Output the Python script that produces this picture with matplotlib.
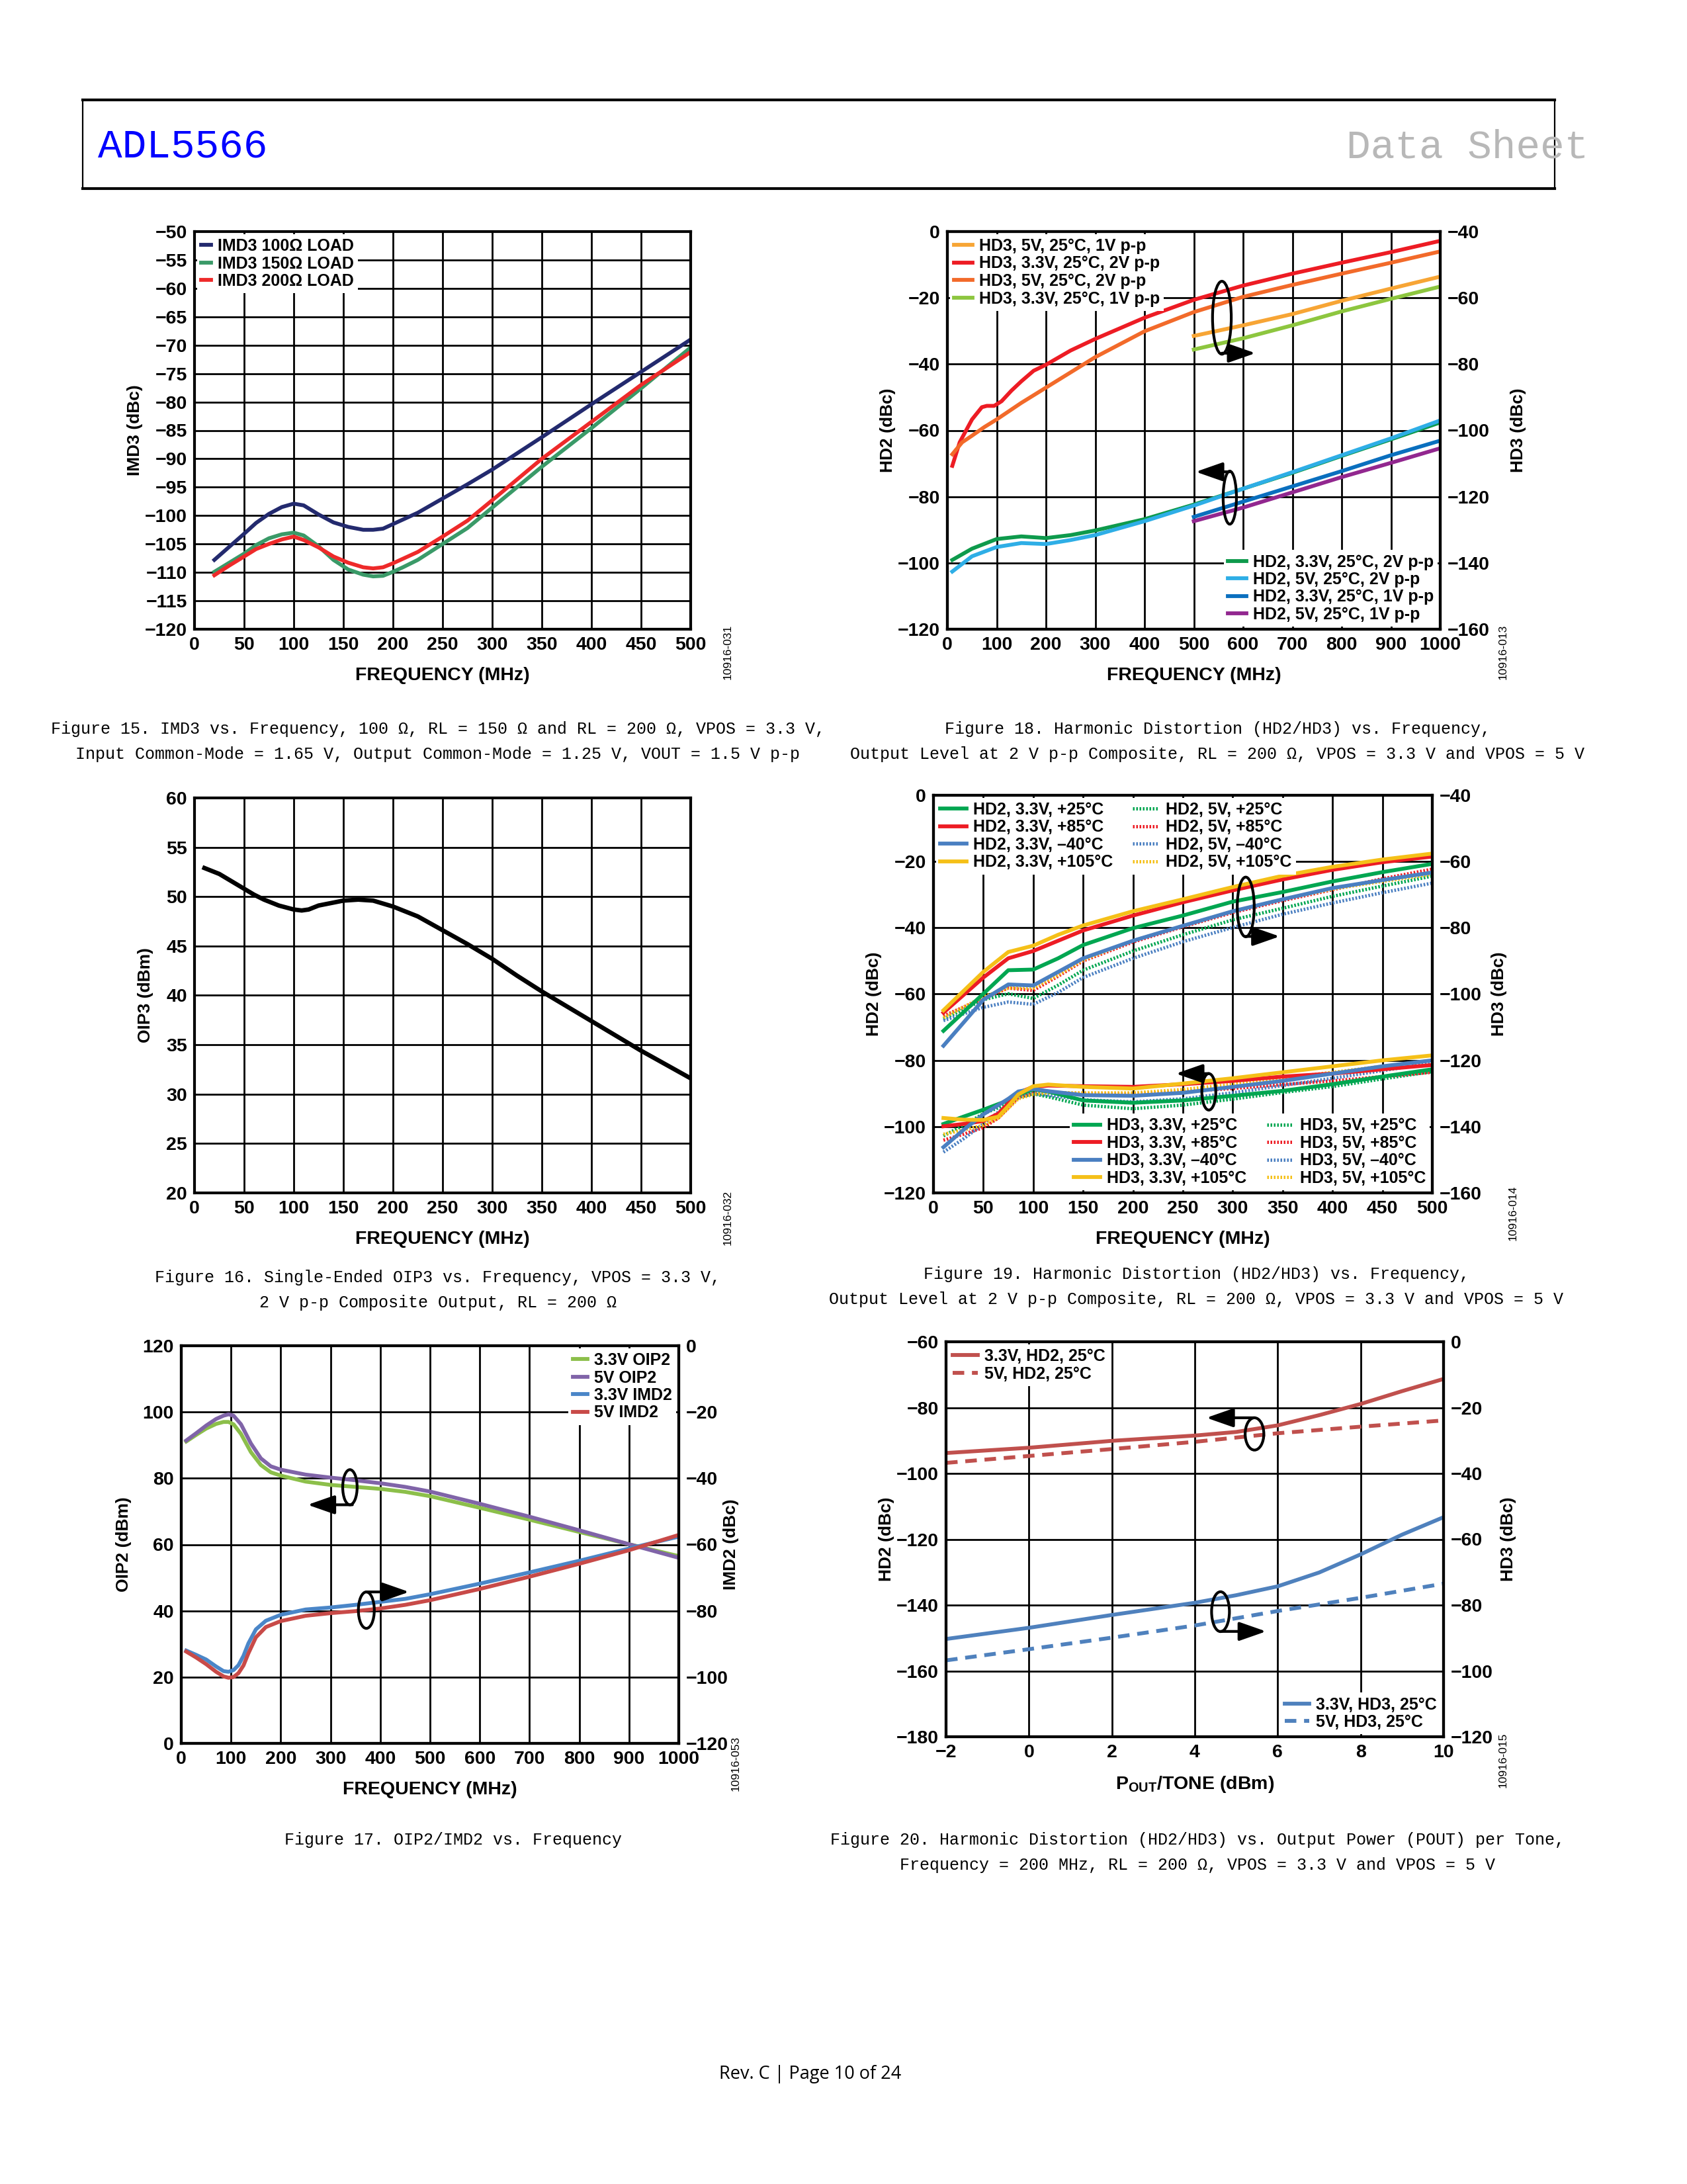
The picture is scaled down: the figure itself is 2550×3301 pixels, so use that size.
import matplotlib
matplotlib.use("Agg")
import matplotlib.pyplot as plt
from matplotlib import font_manager
from matplotlib.patches import Ellipse

# ----------------------------------------------------------- data: figure 15
f15_freq = [20, 35, 50, 62, 75, 88, 100, 110, 125, 140, 155, 170, 180, 190, 200, 210, 225, 250, 275, 300, 350, 400, 450, 500]
imd3_100 = [-107.8, -105.5, -103.2, -101.3, -99.7, -98.5, -97.9, -98.2, -99.8, -101.2, -102.0, -102.5, -102.5, -102.3, -101.5, -100.7, -99.5, -97.0, -94.5, -91.9, -86.2, -80.4, -74.7, -69.0]
imd3_150 = [-109.9, -108.3, -106.7, -105.2, -104.0, -103.3, -103.0, -103.5, -105.4, -107.8, -109.5, -110.4, -110.7, -110.6, -109.9, -109.1, -107.8, -105.0, -102.2, -98.6, -91.4, -84.6, -77.6, -70.4]
imd3_200 = [-110.5, -108.8, -107.2, -105.9, -105.0, -104.2, -103.7, -104.3, -105.6, -107.2, -108.3, -109.1, -109.3, -109.1, -108.4, -107.6, -106.4, -103.7, -100.9, -97.3, -90.0, -83.5, -77.0, -71.2]
f15_labels = ["IMD3 100Ω LOAD", "IMD3 150Ω LOAD", "IMD3 200Ω LOAD"]

# ----------------------------------------------------------- data: figure 16
f16_freq = [10, 25, 40, 50, 60, 70, 85, 100, 108, 115, 125, 140, 150, 165, 180, 190, 200, 225, 250, 275, 300, 325, 350, 375, 400, 425, 450, 475, 500]
oip3 = [52.9, 52.3, 51.4, 50.8, 50.2, 49.7, 49.1, 48.7, 48.6, 48.7, 49.1, 49.4, 49.6, 49.7, 49.6, 49.3, 49.0, 48.0, 46.6, 45.2, 43.7, 42.0, 40.4, 38.9, 37.4, 35.9, 34.4, 33.0, 31.6]

# ----------------------------------------------------------- data: figure 17
f17_oip_freq = [10, 30, 50, 70, 85, 95, 105, 120, 140, 160, 180, 200, 250, 300, 350, 400, 450, 500, 600, 700, 800, 900, 1000]
oip2_33 = [91.1, 93.1, 95.0, 96.4, 97.0, 97.0, 96.3, 93.4, 87.9, 84.0, 81.8, 80.8, 79.0, 78.0, 77.4, 76.8, 75.9, 74.6, 71.1, 67.5, 63.8, 60.1, 56.5]
oip2_5 = [91.4, 93.6, 95.9, 97.9, 98.9, 99.3, 98.9, 96.3, 90.5, 86.0, 83.6, 82.6, 81.1, 80.2, 79.4, 78.5, 77.4, 76.0, 72.3, 68.4, 64.3, 60.1, 56.0]
f17_imd_freq = [10, 30, 50, 70, 85, 95, 105, 115, 125, 135, 150, 170, 200, 250, 300, 350, 400, 450, 500, 600, 700, 800, 900, 1000]
imd2_33 = [-92.0, -93.3, -94.7, -96.8, -98.2, -98.4, -97.9, -96.4, -93.6, -89.8, -85.6, -83.0, -81.2, -79.6, -79.0, -78.2, -77.3, -76.4, -75.0, -71.8, -68.4, -64.9, -61.2, -57.6]
imd2_5 = [-92.3, -94.1, -96.1, -98.4, -99.8, -100.2, -100.0, -98.8, -96.5, -92.8, -88.0, -84.9, -83.1, -81.5, -80.7, -80.1, -79.3, -78.2, -76.8, -73.4, -69.7, -65.8, -61.7, -57.1]
f17_labels = ["3.3V OIP2", "5V OIP2", "3.3V IMD2", "5V IMD2"]

# ----------------------------------------------------------- data: figure 18
f18_freq = [10, 25, 50, 70, 80, 95, 110, 130, 150, 175, 200, 250, 300, 400, 500, 600, 700, 800, 900, 1000]
hd3_33_2v = [-110.7, -103.6, -96.7, -93.0, -92.6, -92.6, -91.2, -88.0, -85.2, -82.0, -80.2, -75.9, -72.4, -66.0, -60.6, -56.3, -52.7, -49.4, -46.2, -42.8]
f18_freq_b = [10, 30, 50, 75, 100, 150, 200, 250, 300, 400, 500, 600, 700, 800, 900, 1000]
hd3_5_2v = [-107.2, -103.6, -101.6, -99.0, -96.7, -91.7, -87.1, -82.5, -77.9, -70.1, -64.3, -59.7, -56.1, -52.7, -49.4, -46.0]
f18_freq_hi = [500, 600, 700, 800, 900, 1000]
hd3_5_1v = [-71.5, -68.3, -64.9, -60.9, -57.2, -53.6]
hd3_33_1v = [-75.6, -72.2, -68.3, -64.1, -60.3, -56.6]
f18_freq_c = [10, 50, 100, 150, 200, 250, 300, 400, 500, 600, 700, 800, 900, 1000]
hd2_33_2v = [-99.1, -95.7, -92.8, -92.0, -92.5, -91.6, -90.2, -86.8, -82.4, -77.6, -72.8, -67.7, -62.7, -57.6]
hd2_5_2v = [-102.6, -98.0, -95.2, -94.0, -94.3, -93.1, -91.6, -87.4, -82.7, -77.6, -72.6, -67.5, -62.4, -57.0]
hd2_33_1v = [-86.1, -81.5, -76.9, -72.3, -67.5, -63.1]
hd2_5_1v = [-87.4, -83.3, -78.7, -74.1, -69.8, -65.4]

# ----------------------------------------------------------- data: figure 19
f19_top_freq = [10, 50, 75, 100, 125, 150, 200, 250, 300, 350, 400, 450, 500]
top_33_p25 = [-111.1, -99.9, -92.8, -92.6, -89.2, -85.2, -80.1, -76.3, -72.1, -69.2, -66.0, -63.2, -60.7]
top_33_p85 = [-105.6, -95.0, -89.2, -87.0, -83.9, -80.8, -76.3, -72.3, -68.7, -65.4, -62.5, -60.2, -58.5]
top_33_m40 = [-115.6, -101.7, -97.1, -97.4, -93.3, -89.2, -83.9, -79.4, -75.0, -71.4, -68.0, -65.6, -63.3]
top_33_p105 = [-104.9, -93.3, -87.3, -85.4, -82.1, -79.3, -75.0, -71.4, -67.7, -64.3, -61.6, -59.4, -57.6]
top_5_p25 = [-107.5, -101.7, -99.9, -101.3, -97.3, -92.8, -87.0, -82.1, -77.6, -74.1, -70.5, -67.4, -64.4]
top_5_p85 = [-106.6, -101.3, -98.2, -98.9, -94.6, -90.0, -84.3, -79.7, -75.4, -71.8, -68.5, -65.2, -62.3]
top_5_m40 = [-108.0, -104.0, -102.4, -103.1, -99.5, -95.0, -89.2, -84.2, -79.9, -75.9, -72.5, -69.4, -66.5]
top_5_p105 = [-107.1, -100.8, -98.2, -98.2, -94.2, -89.7, -83.9, -79.4, -75.0, -71.4, -68.3, -66.0, -63.8]
f19_bot_freq = [10, 30, 50, 65, 75, 85, 100, 115, 150, 200, 250, 300, 350, 400, 450, 500]
bot_33_p25 = [-99.2, -97.0, -94.9, -93.2, -92.1, -90.3, -88.8, -89.4, -92.1, -92.8, -92.1, -90.7, -89.2, -87.2, -84.9, -82.7]
bot_33_p85 = [-99.9, -99.2, -98.3, -96.1, -93.0, -89.8, -88.0, -87.6, -87.8, -88.0, -87.2, -86.2, -84.9, -84.0, -82.7, -81.4]
bot_33_m40 = [-106.2, -101.0, -96.3, -93.5, -91.6, -89.4, -88.6, -89.3, -90.5, -90.7, -89.8, -88.0, -86.2, -84.0, -81.8, -80.0]
bot_33_p105 = [-97.4, -97.9, -98.0, -97.0, -93.8, -90.3, -87.8, -87.3, -88.0, -88.5, -87.0, -85.4, -83.6, -81.8, -80.0, -78.5]
bot_5_p25 = [-102.8, -99.6, -96.1, -94.3, -93.0, -91.2, -90.1, -91.0, -93.5, -94.6, -93.5, -91.7, -89.7, -87.9, -85.6, -83.4]
bot_5_p85 = [-104.1, -102.3, -100.3, -97.4, -94.3, -91.2, -89.8, -89.6, -90.1, -90.1, -89.4, -88.5, -87.3, -86.2, -84.9, -83.6]
bot_5_m40 = [-107.7, -103.7, -99.2, -95.6, -93.4, -91.2, -90.1, -90.5, -91.9, -92.5, -91.6, -89.8, -87.6, -85.4, -83.1, -80.8]
bot_5_p105 = [-102.3, -101.0, -99.6, -97.4, -94.5, -91.6, -90.3, -89.8, -89.8, -89.8, -88.8, -87.2, -85.4, -83.6, -81.8, -80.0]
temps = ["+25°C", "+85°C", "–40°C", "+105°C"]

# ----------------------------------------------------------- data: figure 20
pout = [-2, 0, 2, 4, 5, 6, 7, 8, 9, 10]
pout_d = [-2, 0, 2, 4, 6, 8, 10]
hd2_33_p = [-93.8, -92.2, -90.1, -88.5, -87.4, -85.4, -82.3, -78.9, -75.0, -71.3]
hd2_5_p = [-96.8, -94.7, -92.6, -90.4, -87.8, -85.8, -83.9]
hd3_33_p = [-90.3, -86.9, -83.0, -79.3, -77.0, -74.3, -70.1, -64.6, -58.6, -53.3]
hd3_5_p = [-96.8, -93.4, -89.9, -86.2, -81.8, -77.8, -73.5]

# ----------------------------------------------------------- fonts / helpers
names = {f.name for f in font_manager.fontManager.ttflist}
NARROW = "Liberation Sans Narrow" if "Liberation Sans Narrow" in names else "Liberation Sans"
plt.rcParams["font.family"] = [NARROW, "DejaVu Sans"]
plt.rcParams["font.weight"] = "bold"
plt.rcParams["font.size"] = 20
plt.rcParams["axes.labelweight"] = "bold"

W, H = 2550, 3301
fig = plt.figure(figsize=(W / 100, H / 100), dpi=100)


def px_axes(l, r, t, b):
    return fig.add_axes([l / W, 1 - b / H, (r - l) / W, (b - t) / H])


def style(ax, xlim, xt, ylim, yt, xlabel, ylabel, ypad=2):
    ax.set_xlim(*xlim)
    ax.set_ylim(*ylim)
    ax.set_xticks(xt)
    ax.set_yticks(yt)
    ax.set_axisbelow(True)
    ax.grid(True, color="black", linewidth=2.0)
    ax.tick_params(length=0, pad=8, labelsize=20.5)
    for sp in ax.spines.values():
        sp.set_linewidth(3.0)
    ax.set_xlabel(xlabel, fontsize=20.5, labelpad=14)
    ax.set_ylabel(ylabel, family="Liberation Sans", fontsize=19, labelpad=ypad)


def right_axis(ax, ylim, yt, ylabel, pad=14):
    ax2 = ax.twinx()
    ax2.set_ylim(*ylim)
    ax2.set_yticks(yt)
    ax2.tick_params(length=0, pad=8, labelsize=20.5)
    for sp in ax2.spines.values():
        sp.set_linewidth(3.0)
    ax2.set_ylabel(ylabel, family="Liberation Sans", fontsize=19, labelpad=pad)
    return ax2


def loop(axd, trans, center, w, h, start, end):
    axd.add_patch(Ellipse(center, w, h, transform=trans, fill=False, lw=3.0, ec="black", zorder=8))
    axd.annotate("", xy=end, xytext=start, xycoords=trans, textcoords=trans,
                 arrowprops=dict(arrowstyle="-|>,head_length=1.0,head_width=0.35", lw=3.0,
                                 color="black", mutation_scale=25, shrinkA=0, shrinkB=0), zorder=8)


def legend(ax, handles, labels, size=18, **kw):
    leg = ax.legend(handles, labels, fontsize=size, frameon=True, fancybox=False, framealpha=1,
                    facecolor="white", edgecolor="none", borderpad=0.25, labelspacing=0.1,
                    handletextpad=0.4, borderaxespad=0.15, **kw)
    leg.set_zorder(10)
    return leg


def fig_id(x, y, s):
    fig.text(x / W, 1 - y / H, s, rotation=90, ha="center", va="center", fontsize=12.5,
             family="Liberation Sans", weight="normal")


def caption(x, y, lines):
    for i, s in enumerate(lines):
        fig.text(x / W, 1 - (y + i * 38) / H, s, ha="center", va="center", fontsize=18,
                 family="Liberation Mono", weight="normal")


LW = 4.2

# ----------------------------------------------------------- header / footer
fig.add_artist(plt.Line2D([125 / W, 2350 / W], [1 - 151 / H, 1 - 151 / H], color="black", lw=3))
fig.add_artist(plt.Line2D([125 / W, 2350 / W], [1 - 285 / H, 1 - 285 / H], color="black", lw=3))
fig.add_artist(plt.Line2D([125 / W, 125 / W], [1 - 151 / H, 1 - 285 / H], color="black", lw=1.6))
fig.add_artist(plt.Line2D([2350 / W, 2350 / W], [1 - 151 / H, 1 - 285 / H], color="black", lw=1.6))
fig.text(148 / W, 1 - 223 / H, "ADL5566", color="#0000ff", fontsize=44, family="Liberation Mono",
         weight="normal", va="center", ha="left")
fig.text(2035 / W, 1 - 223 / H, "Data Sheet", color="#b8b8b8", fontsize=44, family="Liberation Mono",
         weight="normal", va="center", ha="left")
fig.text(1225 / W, 1 - 3135 / H, "Rev. C | Page 10 of 24", ha="center", va="center", fontsize=19.5,
         family="Open Sans", weight="normal")

# ----------------------------------------------------------- figure 15
ax = px_axes(294, 1044, 350, 951)
style(ax, (0, 500), range(0, 501, 50), (-120, -50), range(-120, -49, 5), "FREQUENCY (MHz)", "IMD3 (dBc)")
h1, = ax.plot(f15_freq, imd3_100, color="#232a6e", lw=LW)
h2, = ax.plot(f15_freq, imd3_150, color="#3a9a68", lw=LW)
h3, = ax.plot(f15_freq, imd3_200, color="#ee2a2a", lw=LW)
legend(ax, [h1, h2, h3], f15_labels, loc="upper left", handlelength=0.6)
fig_id(1100, 985, "10916-031")
caption(662, 1102, ["Figure 15. IMD3 vs. Frequency, 100 Ω, RL = 150 Ω and RL = 200 Ω, VPOS = 3.3 V,",
                    "Input Common-Mode = 1.65 V, Output Common-Mode = 1.25 V, VOUT = 1.5 V p-p"])

# ----------------------------------------------------------- figure 18
ax = px_axes(1432, 2177, 350, 951)
style(ax, (0, 1000), range(0, 1001, 100), (-120, 0), range(-120, 1, 20), "FREQUENCY (MHz)", "HD2 (dBc)")
ax2 = right_axis(ax, (-160, -40), range(-160, -39, 20), "HD3 (dBc)", pad=22)
a, = ax2.plot(f18_freq_hi, hd3_5_1v, color="#f7a535", lw=LW)
b, = ax2.plot(f18_freq, hd3_33_2v, color="#ed1c24", lw=LW)
c, = ax2.plot(f18_freq_b, hd3_5_2v, color="#f26a2a", lw=LW)
d, = ax2.plot(f18_freq_hi, hd3_33_1v, color="#8dc63f", lw=LW)
e, = ax.plot(f18_freq_c, hd2_33_2v, color="#0e9a4c", lw=LW)
f, = ax.plot(f18_freq_c, hd2_5_2v, color="#2eaee6", lw=LW)
g, = ax.plot(f18_freq_hi, hd2_33_1v, color="#0a6fbe", lw=LW)
k, = ax.plot(f18_freq_hi, hd2_5_1v, color="#92278f", lw=LW)
l1 = legend(ax2, [a, b, c, d], ["HD3, 5V, 25°C, 1V p-p", "HD3, 3.3V, 25°C, 2V p-p",
                                "HD3, 5V, 25°C, 2V p-p", "HD3, 3.3V, 25°C, 1V p-p"],
            loc="upper left", handlelength=1.1)
ax2.add_artist(l1)
legend(ax2, [e, f, g, k], ["HD2, 3.3V, 25°C, 2V p-p", "HD2, 5V, 25°C, 2V p-p",
                           "HD2, 3.3V, 25°C, 1V p-p", "HD2, 5V, 25°C, 1V p-p"],
       loc="lower right", handlelength=1.1)
loop(ax2, ax.transData, (557, -26), 38, 22, (557, -36.7), (625, -36.7))
loop(ax2, ax.transData, (573, -80.3), 27, 16, (573, -72.5), (504, -72.5))
fig_id(2272, 985, "10916-013")
caption(1840, 1102, ["Figure 18. Harmonic Distortion (HD2/HD3) vs. Frequency,",
                     "Output Level at 2 V p-p Composite, RL = 200 Ω, VPOS = 3.3 V and VPOS = 5 V"])

# ----------------------------------------------------------- figure 16
ax = px_axes(294, 1044, 1206, 1803)
style(ax, (0, 500), range(0, 501, 50), (20, 60), range(20, 61, 5), "FREQUENCY (MHz)", "OIP3 (dBm)", ypad=14)
ax.plot(f16_freq, oip3, color="black", lw=LW + 0.6)
fig_id(1100, 1840, "10916-032")
caption(662, 1931, ["Figure 16. Single-Ended OIP3 vs. Frequency, VPOS = 3.3 V,",
                    "2 V p-p Composite Output, RL = 200 Ω"])

# ----------------------------------------------------------- figure 19
ax = px_axes(1411, 2165, 1202, 1803)
style(ax, (0, 500), range(0, 501, 50), (-120, 0), range(-120, 1, 20), "FREQUENCY (MHz)", "HD2 (dBc)")
ax2 = right_axis(ax, (-160, -40), range(-160, -39, 20), "HD3 (dBc)", pad=10)
cols = ["#00a651", "#ed1c24", "#4a7fc1", "#f5c018"]
dot = (0, (0.5, 0.5))
top_solid = [top_33_p25, top_33_p85, top_33_m40, top_33_p105]
top_dot = [top_5_p25, top_5_p85, top_5_m40, top_5_p105]
bot_solid = [bot_33_p25, bot_33_p85, bot_33_m40, bot_33_p105]
bot_dot = [bot_5_p25, bot_5_p85, bot_5_m40, bot_5_p105]
hs_t, hd_t, hs_b, hd_b = [], [], [], []
for i in range(4):
    hd_t.append(ax2.plot(f19_top_freq, top_dot[i], color=cols[i], lw=LW - 0.6, ls=dot)[0])
    hd_b.append(ax.plot(f19_bot_freq, bot_dot[i], color=cols[i], lw=LW - 0.6, ls=dot)[0])
for i in range(4):
    hs_t.append(ax2.plot(f19_top_freq, top_solid[i], color=cols[i], lw=LW)[0])
    hs_b.append(ax.plot(f19_bot_freq, bot_solid[i], color=cols[i], lw=LW)[0])
l1 = legend(ax2, hs_t + hd_t, ["HD2, 3.3V, " + t for t in temps] + ["HD2, 5V, " + t for t in temps],
            loc="upper left", ncol=2, handlelength=1.6, columnspacing=1.2)
ax2.add_artist(l1)
legend(ax2, hs_b + hd_b, ["HD3, 3.3V, " + t for t in temps] + ["HD3, 5V, " + t for t in temps],
       loc="lower right", ncol=2, handlelength=1.6, columnspacing=1.2)
loop(ax2, ax.transData, (313, -33.7), 17, 18, (313, -42.6), (347, -42.6))
loop(ax2, ax.transData, (276, -89.5), 14, 11, (276, -84), (243, -84))
fig_id(2287, 1833, "10916-014")
caption(1808, 1926, ["Figure 19. Harmonic Distortion (HD2/HD3) vs. Frequency,",
                     "Output Level at 2 V p-p Composite, RL = 200 Ω, VPOS = 3.3 V and VPOS = 5 V"])

# ----------------------------------------------------------- figure 17
ax = px_axes(274, 1026, 2034, 2635)
style(ax, (0, 1000), range(0, 1001, 100), (0, 120), range(0, 121, 20), "FREQUENCY (MHz)", "OIP2 (dBm)", ypad=12)
ax2 = right_axis(ax, (-120, 0), range(-120, 1, 20), "IMD2 (dBc)", pad=-6)
a, = ax.plot(f17_oip_freq, oip2_33, color="#8cbf4a", lw=LW)
b, = ax.plot(f17_oip_freq, oip2_5, color="#8064a8", lw=LW)
c, = ax2.plot(f17_imd_freq, imd2_33, color="#4a86c8", lw=LW)
d, = ax2.plot(f17_imd_freq, imd2_5, color="#c84a48", lw=LW)
legend(ax2, [a, b, c, d], f17_labels, loc="upper right", handlelength=0.9)
loop(ax2, ax.transData, (339, 77.3), 29, 10.6, (344, 72), (254, 72))
loop(ax2, ax.transData, (372, 40.2), 32, 11, (372, 45.7), (458, 45.7))
fig_id(1112, 2665, "10916-053")
caption(685, 2781, ["Figure 17. OIP2/IMD2 vs. Frequency"])

# ----------------------------------------------------------- figure 20
ax = px_axes(1430, 2182, 2028, 2625)
style(ax, (-2, 10), range(-2, 11, 2), (-180, -60), range(-180, -59, 20),
      r"P$_{\mathregular{OUT}}$/TONE (dBm)", "HD2 (dBc)")
ax2 = right_axis(ax, (-120, 0), range(-120, 1, 20), "HD3 (dBc)", pad=8)
dash = (0, (3, 2))
a, = ax.plot(pout, hd2_33_p, color="#c0504d", lw=LW)
b, = ax.plot(pout_d, hd2_5_p, color="#c0504d", lw=LW, ls=dash)
c, = ax2.plot(pout, hd3_33_p, color="#4f81bd", lw=LW)
d, = ax2.plot(pout_d, hd3_5_p, color="#4f81bd", lw=LW, ls=dash)
l1 = legend(ax2, [a, b], ["3.3V, HD2, 25°C", "5V, HD2, 25°C"], loc="upper left", handlelength=1.5)
ax2.add_artist(l1)
legend(ax2, [c, d], ["3.3V, HD3, 25°C", "5V, HD3, 25°C"], loc="lower right", handlelength=1.5)
loop(ax2, ax.transData, (5.44, -88), 0.45, 9.8, (5.44, -83.1), (4.28, -83.1))
loop(ax2, ax.transData, (4.62, -142), 0.43, 12.1, (4.62, -148), (5.72, -148))
fig_id(2272, 2660, "10916-015")
caption(1810, 2781, ["Figure 20. Harmonic Distortion (HD2/HD3) vs. Output Power (POUT) per Tone,",
                     "Frequency = 200 MHz, RL = 200 Ω, VPOS = 3.3 V and VPOS = 5 V"])

fig.savefig("out.png", dpi=100)
